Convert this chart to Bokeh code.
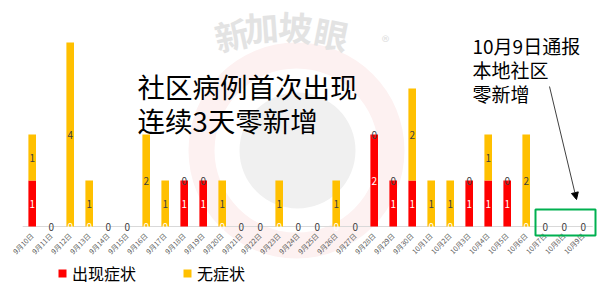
from math import pi
from bokeh.plotting import figure
from bokeh.models import (ColumnDataSource, Range1d, Legend, LegendItem,
                          Label, Arrow, NormalHead, BoxAnnotation)
from bokeh.core.properties import value
from bokeh.embed import file_html
from bokeh.resources import INLINE

# ---------------- data ----------------
dates = ["9月10日", "9月11日", "9月12日", "9月13日", "9月14日", "9月15日", "9月16日",
         "9月17日", "9月18日", "9月19日", "9月20日", "9月21日", "9月22日", "9月23日",
         "9月24日", "9月25日", "9月26日", "9月27日", "9月28日", "9月29日", "9月30日",
         "10月1日", "10月2日", "10月3日", "10月4日", "10月5日", "10月6日", "10月7日",
         "10月8日", "10月9日"]
symptomatic = [1, 0, 0, 0, 0, 0, 0, 0, 1, 1, 0, 0, 0, 0, 0, 0, 0, 0, 2, 1, 1,
               0, 0, 1, 1, 1, 0, 0, 0, 0]
asymptomatic = [1, 0, 4, 1, 0, 0, 2, 1, 0, 0, 1, 0, 0, 1, 0, 0, 1, 0, 0, 0, 2,
                1, 1, 0, 1, 0, 2, 0, 0, 0]
series_names = ["出现症状", "无症状"]
title_lines = ["社区病例首次出现", "连续3天零新增"]
note_lines = ["10月9日通报", "本地社区", "零新增"]
watermark = "新加坡眼"

RED = "#ff0000"
YEL = "#ffc000"
FONT = "Noto Sans CJK SC"

idx = list(range(len(dates)))
top_red = symptomatic
top_yel = [a + b for a, b in zip(symptomatic, asymptomatic)]

# ---------------- geometry helpers (pixel -> data) ----------------
H = 293.0
PXU = 19.0          # pixels per category
X0 = -31.7 / PXU    # x range start
X1 = X0 + 601 / PXU
YU = 46.0           # pixels per case
BASE = 226.0        # pixel row of zero line
Y0 = -(H - BASE) / YU
Y1 = BASE / YU


def dx(px):
    return px / PXU + X0


def dy(py):
    return (BASE - py) / YU


p = figure(width=601, height=293, x_range=Range1d(X0, X1), y_range=Range1d(Y0, Y1),
           min_border=0, toolbar_location=None, output_backend="svg",
           x_axis_location=None, y_axis_location=None)
p.grid.visible = False
p.outline_line_color = None
p.background_fill_color = "white"
p.border_fill_color = "white"

# ---------------- watermark (decoration) ----------------
p.annulus(x=[dx(296)], y=[dy(150)], inner_radius=82, outer_radius=108,
          inner_radius_units="screen", outer_radius_units="screen",
          fill_color="#fdf1f1", line_color=None)
p.scatter(x=[dx(297)], y=[dy(150)], size=116, marker="circle",
          fill_color="#f0f0f0", line_color=None)
wm_px = [(231, 34, 0.22), (261, 26, 0.07), (295, 26, -0.07), (331, 33, -0.2)]
for ch, (wx, wy, ang) in zip(watermark, wm_px):
    p.add_layout(Label(x=dx(wx), y=dy(wy), text=ch, text_font=FONT, text_font_size="34px",
                       text_font_style="bold", text_color="#e3e3e3", angle=ang,
                       text_align="center", text_baseline="middle"))
p.add_layout(Label(x=dx(385), y=dy(40), text="®", text_font=FONT, text_font_size="16px",
                   text_color="#e0e0e0", text_align="center", text_baseline="middle"))

# ---------------- baseline ----------------
p.line(x=[idx[0] - 0.5, idx[-1] + 0.5], y=[0, 0], line_color="#d9d9d9", line_width=1)

# ---------------- bars ----------------
src = ColumnDataSource(dict(x=idx, red=top_red, yel=top_yel, date=dates,
                            red_lab=[str(v) for v in symptomatic],
                            yel_lab=[str(v) for v in asymptomatic],
                            red_mid=[v / 2 for v in symptomatic],
                            yel_mid=[r + a / 2 for r, a in zip(symptomatic, asymptomatic)]))
W = 7.6 / PXU
r_red = p.vbar(x="x", bottom=0, top="red", width=W, source=src, fill_color=RED, line_color=None)
r_yel = p.vbar(x="x", bottom="red", top="yel", width=W, source=src, fill_color=YEL, line_color=None)

p.text(x="x", y="red_mid", text="red_lab", source=src, text_align="center",
       text_baseline="middle", text_font=value(FONT), text_font_size="10px", text_color="white")
p.text(x="x", y="yel_mid", text="yel_lab", source=src, text_align="center",
       text_baseline="middle", text_font=value(FONT), text_font_size="10px", text_color="#404040")

# ---------------- category (date) labels, rotated ----------------
p.text(x="x", y=dy(234), text="date", source=src, angle=pi / 4,
       text_align="right", text_baseline="middle", text_font=value(FONT),
       text_font_size="7px", text_color="#595959")

# ---------------- titles / annotations ----------------
for i, t in enumerate(title_lines):
    p.add_layout(Label(x=dx(137), y=dy(65 + 34 * i), text=t, text_font=FONT,
                       text_font_size="27.5px", text_color="#000000",
                       text_baseline="top", text_align="left"))
for i, t in enumerate(note_lines):
    p.add_layout(Label(x=dx(472), y=dy(31 + 24 * i), text=t, text_font=FONT,
                       text_font_size="19px", text_color="#000000",
                       text_baseline="top", text_align="left"))

p.add_layout(Arrow(x_start=dx(549), y_start=dy(86), x_end=dx(576), y_end=dy(199),
                   line_color="#404040", line_width=1,
                   end=NormalHead(size=7, fill_color="#000000", line_color="#000000")))

p.add_layout(BoxAnnotation(left=dx(535), right=dx(595), top=dy(209), bottom=dy(235),
                           fill_alpha=0, line_color="#00b050", line_alpha=1.0,
                           line_width=2))

# ---------------- legend ----------------
legend = Legend(items=[LegendItem(label=series_names[0], renderers=[r_red]),
                       LegendItem(label=series_names[1], renderers=[r_yel])],
                orientation="horizontal", location=(57, int(H - 285)),
                glyph_width=10, glyph_height=10, label_height=16, label_standoff=5,
                spacing=46, padding=0, margin=0, border_line_color=None,
                background_fill_alpha=0, label_text_font=FONT,
                label_text_font_size="16px", label_text_color="#000000")
p.add_layout(legend)

open("out.html", "w").write(file_html(p, INLINE))
